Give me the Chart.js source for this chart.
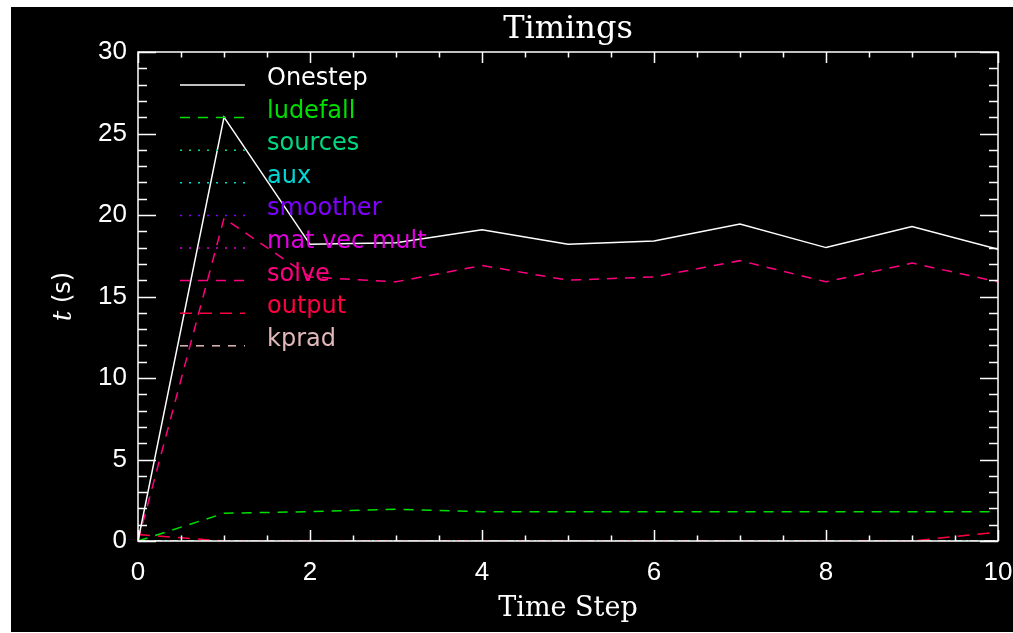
<!DOCTYPE html>
<html>
<head>
<meta charset="utf-8">
<title>Timings</title>
<script src="https://cdn.jsdelivr.net/npm/chart.js@4/dist/chart.umd.min.js"></script>
<style>
  html, body { margin: 0; padding: 0; background: #fff; }
  #chart { display: block; }
</style>
</head>
<body>
<canvas id="chart" width="1013" height="633"></canvas>
<script>
// ===== data =====
const steps = [0, 1, 2, 3, 4, 5, 6, 7, 8, 9, 10]
const onestep = [0, 26.0, 18.2, 18.3, 19.1, 18.2, 18.4, 19.45, 18.0, 19.3, 17.9]
const ludefall = [0, 1.7, 1.8, 1.95, 1.8, 1.8, 1.8, 1.8, 1.8, 1.8, 1.8]
const sources = [0, 0, 0, 0, 0, 0, 0, 0, 0, 0, 0]
const aux = [0, 0, 0, 0, 0, 0, 0, 0, 0, 0, 0]
const smoother = [0, 0, 0, 0, 0, 0, 0, 0, 0, 0, 0]
const matVecMult = [0, 0, 0, 0, 0, 0, 0, 0, 0, 0, 0]
const solve = [0, 19.8, 16.2, 15.9, 16.9, 16.0, 16.2, 17.2, 15.9, 17.05, 15.9]
const output = [0.4, 0, 0, 0, 0, 0, 0, 0, 0, 0, 0.55]
const kprad = [0, 0, 0, 0, 0, 0, 0, 0, 0, 0, 0]

const xTicks = [0, 2, 4, 6, 8, 10]
const yTicks = [0, 5, 10, 15, 20, 25, 30]

const series = [
  { label: 'Onestep', values: onestep, color: '#ffffff', dash: [] },
  { label: 'ludefall', values: ludefall, color: '#00e000', dash: [10, 8] },
  { label: 'sources', values: sources, color: '#00d880', dash: [2, 7] },
  { label: 'aux', values: aux, color: '#00d8d8', dash: [2, 7] },
  { label: 'smoother', values: smoother, color: '#8000ff', dash: [2, 7] },
  { label: 'mat vec mult', values: matVecMult, color: '#e000e0', dash: [2, 7] },
  { label: 'solve', values: solve, color: '#ff0080', dash: [10, 8] },
  { label: 'output', values: output, color: '#ff0040', dash: [12, 8] },
  { label: 'kprad', values: kprad, color: '#e0b8b8', dash: [8, 8] }
]

// black frame behind everything
const frame = {
  id: 'frame',
  beforeDraw(chart) {
    const ctx = chart.ctx
    ctx.save()
    ctx.fillStyle = '#ffffff'
    ctx.fillRect(0, 0, chart.width, chart.height)
    ctx.fillStyle = '#000000'
    ctx.fillRect(11, 7, chart.width - 11, chart.height - 8)
    ctx.restore()
  }
}

// IDL-style box with inward ticks on all four sides, plus y title and legend
const boxAxes = {
  id: 'boxAxes',
  afterDraw(chart) {
    const ctx = chart.ctx
    const a = chart.chartArea
    const xs = chart.scales.x
    const ys = chart.scales.y
    ctx.save()
    ctx.strokeStyle = '#ffffff'
    ctx.lineWidth = 1.5
    ctx.setLineDash([])
    ctx.strokeRect(a.left, a.top, a.right - a.left, a.bottom - a.top)

    ctx.beginPath()
    for (let v = 0; v <= 10.001; v += 0.5) {
      const px = Math.round(xs.getPixelForValue(v)) + 0.5
      const len = (v % 2 === 0) ? 11 : 5.5
      ctx.moveTo(px, a.bottom); ctx.lineTo(px, a.bottom - len)
      ctx.moveTo(px, a.top); ctx.lineTo(px, a.top + len)
    }
    for (let v = 0; v <= 30; v += 1) {
      const py = Math.round(ys.getPixelForValue(v)) + 0.5
      const len = (v % 5 === 0) ? 18 : 9
      ctx.moveTo(a.left, py); ctx.lineTo(a.left + len, py)
      ctx.moveTo(a.right, py); ctx.lineTo(a.right - len, py)
    }
    ctx.stroke()

    // y title: italic t + (s)
    ctx.fillStyle = '#ffffff'
    ctx.translate(64, (a.top + a.bottom) / 2)
    ctx.rotate(-Math.PI / 2)
    ctx.textBaseline = 'middle'
    ctx.font = 'italic 26px "DejaVu Serif"'
    const tW = ctx.measureText('t').width
    ctx.font = '24px "DejaVu Sans"'
    const sW = ctx.measureText(' (s)').width
    let x0 = -(tW + sW) / 2
    ctx.font = 'italic 26px "DejaVu Serif"'
    ctx.textAlign = 'left'
    ctx.fillText('t', x0, 0)
    ctx.font = '24px "DejaVu Sans"'
    ctx.fillText(' (s)', x0 + tW, 0)
    ctx.restore()

    // legend inside the plot
    ctx.save()
    ctx.font = '24px "DejaVu Sans"'
    ctx.textBaseline = 'alphabetic'
    chart.data.datasets.forEach((ds, i) => {
      const y = a.top + 33 + i * 32.6
      ctx.strokeStyle = ds.borderColor
      ctx.lineWidth = 1.5
      ctx.setLineDash(ds.borderDash || [])
      ctx.beginPath()
      ctx.moveTo(a.left + 42, y)
      ctx.lineTo(a.left + 107, y)
      ctx.stroke()
      ctx.fillStyle = ds.borderColor
      ctx.fillText(ds.label, a.left + 129, y)
    })
    ctx.restore()
  }
}

const ctx = document.getElementById('chart').getContext('2d')
new Chart(ctx, {
  type: 'line',
  data: {
    datasets: series.map(s => ({
      label: s.label,
      data: s.values.map((v, i) => ({ x: steps[i], y: v })),
      borderColor: s.color,
      backgroundColor: s.color,
      borderDash: s.dash,
      borderWidth: 1.5,
      pointRadius: 0,
      tension: 0,
      fill: false
    }))
  },
  options: {
    responsive: false,
    devicePixelRatio: 1,
    animation: false,
    layout: { padding: { left: 0, right: 0, top: 0, bottom: 0 } },
    plugins: {
      legend: { display: false },
      tooltip: { enabled: false },
      title: {
        display: true,
        text: 'Timings',
        fullSize: false,
        color: '#ffffff',
        font: { family: '"DejaVu Serif"', size: 32, weight: 'normal', lineHeight: 1.2 },
        padding: { top: 10, bottom: 3.6 }
      }
    },
    scales: {
      x: {
        type: 'linear',
        min: 0,
        max: 10,
        afterFit(scale) {
          scale.height = 92
          scale.paddingRight = 15
        },
        afterBuildTicks(scale) { scale.ticks = xTicks.map(v => ({ value: v })) },
        grid: { display: false, drawTicks: false },
        border: { display: false },
        ticks: {
          color: '#ffffff',
          padding: 16,
          maxRotation: 0,
          font: { family: '"Liberation Sans"', size: 26 }
        },
        title: {
          display: true,
          text: 'Time Step',
          color: '#ffffff',
          font: { family: '"DejaVu Serif"', size: 27, weight: 'normal' },
          padding: { top: 0, bottom: 8 }
        }
      },
      y: {
        min: 0,
        max: 30,
        afterFit(scale) { scale.width = 138 },
        afterBuildTicks(scale) { scale.ticks = yTicks.map(v => ({ value: v })) },
        grid: { display: false, drawTicks: false },
        border: { display: false },
        ticks: {
          color: '#ffffff',
          padding: 11,
          font: { family: '"Liberation Sans"', size: 26 }
        }
      }
    }
  },
  plugins: [frame, boxAxes]
})
</script>
</body>
</html>
